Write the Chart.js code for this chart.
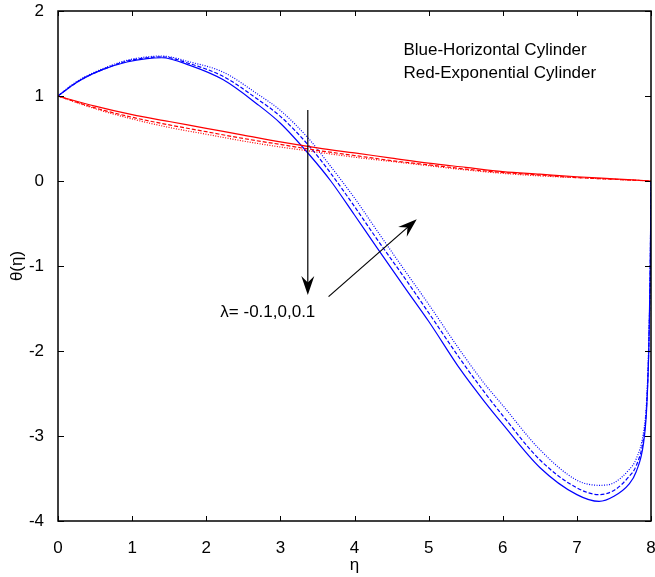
<!DOCTYPE html>
<html>
<head>
<meta charset="utf-8">
<script src="https://cdn.jsdelivr.net/npm/chart.js@4.4.1/dist/chart.umd.min.js"></script>
<style>
html, body { margin: 0; padding: 0; background: #fff; }
</style>
</head>
<body>
<canvas id="chart" width="655" height="577"></canvas>
<script>
// theta(eta) profiles

const etaBlue = [0, 0.2, 0.35, 0.6, 0.93, 1.2, 1.4, 1.78, 2.23, 2.68, 3.0, 3.4, 3.68, 4.0, 4.3, 4.7, 5.0, 5.43, 5.74, 6.0, 6.5, 7.0, 7.3, 7.5, 7.7, 7.8, 7.9, 7.94, 7.97, 7.99, 8.0];
const blueA = [1.0, 1.13, 1.21, 1.31, 1.40, 1.44, 1.45, 1.36, 1.19, 0.91, 0.68, 0.30, 0.0, -0.40, -0.78, -1.28, -1.65, -2.22, -2.58, -2.86, -3.37, -3.69, -3.77, -3.71, -3.57, -3.42, -3.08, -2.7, -2.0, -1.0, 0.0];
const blueB = [1.0, 1.13, 1.21, 1.31, 1.41, 1.45, 1.46, 1.38, 1.23, 0.97, 0.76, 0.40, 0.09, -0.30, -0.68, -1.17, -1.55, -2.10, -2.47, -2.76, -3.28, -3.61, -3.69, -3.64, -3.48, -3.35, -3.02, -2.65, -1.95, -1.0, 0.0];
const blueC = [1.0, 1.14, 1.22, 1.32, 1.42, 1.46, 1.47, 1.40, 1.28, 1.03, 0.83, 0.48, 0.17, -0.20, -0.58, -1.08, -1.45, -2.00, -2.37, -2.64, -3.16, -3.52, -3.58, -3.55, -3.40, -3.27, -2.95, -2.6, -1.9, -1.0, 0.0];

const etaRed = [0, 0.5, 1, 1.5, 2, 2.5, 3, 3.5, 4, 4.5, 5, 5.5, 6, 6.5, 7, 7.5, 8];
const red1 = [1.0, 0.88, 0.78, 0.70, 0.62, 0.54, 0.46, 0.39, 0.33, 0.27, 0.21, 0.16, 0.11, 0.08, 0.05, 0.025, 0.0];
const red2 = [1.0, 0.86, 0.75, 0.66, 0.58, 0.50, 0.43, 0.36, 0.30, 0.24, 0.19, 0.14, 0.10, 0.07, 0.04, 0.02, 0.0];
const red3 = [1.0, 0.85, 0.73, 0.63, 0.55, 0.47, 0.40, 0.34, 0.28, 0.23, 0.18, 0.13, 0.09, 0.06, 0.04, 0.02, 0.0];

const xTicks = [0, 1, 2, 3, 4, 5, 6, 7, 8];
const yTicks = [-4, -3, -2, -1, 0, 1, 2];

// annotations in data units
const noteLines = ['Blue-Horizontal Cylinder', 'Red-Exponential Cylinder'];
const noteAt = { x: 4.66, y: [1.54, 1.27] };
const lambdaText = 'λ= -0.1,0,0.1';
const lambdaAt = { x: 2.19, y: -1.54 };
const arrows = [
    { from: [3.37, 0.835], to: [3.37, -1.34] },
    { from: [3.65, -1.36], to: [4.84, -0.45] }
];

const FONT = "'Liberation Sans', Arial, sans-serif";

function pts(xs, ys) {
    return xs.map((x, i) => ({ x: x, y: ys[i] }));
}

function line(label, xs, ys, color, dash) {
    return {
        label: label,
        data: pts(xs, ys),
        showLine: true,
        borderColor: color,
        borderWidth: 1.2,
        borderDash: dash,
        pointRadius: 0,
        cubicInterpolationMode: 'monotone',
        fill: false
    };
}

const decorations = {
    id: 'decorations',
    afterDatasetsDraw(chart) {
        const ctx = chart.ctx;
        const xs = chart.scales.x, ys = chart.scales.y;
        const a = chart.chartArea;
        ctx.save();

        // box + inward ticks
        ctx.strokeStyle = '#000';
        ctx.lineWidth = 1.5;
        ctx.strokeRect(a.left, a.top, a.right - a.left, a.bottom - a.top);
        ctx.lineWidth = 1;
        ctx.beginPath();
        xTicks.forEach(v => {
            const px = Math.round(xs.getPixelForValue(v)) + 0.5;
            ctx.moveTo(px, a.bottom); ctx.lineTo(px, a.bottom - 5);
            ctx.moveTo(px, a.top); ctx.lineTo(px, a.top + 5);
        });
        yTicks.forEach(v => {
            const py = Math.round(ys.getPixelForValue(v)) + 0.5;
            ctx.moveTo(a.left, py); ctx.lineTo(a.left + 6, py);
            ctx.moveTo(a.right, py); ctx.lineTo(a.right - 6, py);
        });
        ctx.stroke();

        // text notes
        ctx.fillStyle = '#000';
        ctx.font = '17px ' + FONT;
        ctx.textBaseline = 'middle';
        ctx.textAlign = 'left';
        noteLines.forEach((t, i) => {
            ctx.fillText(t, xs.getPixelForValue(noteAt.x), ys.getPixelForValue(noteAt.y[i]));
        });
        ctx.fillText(lambdaText, xs.getPixelForValue(lambdaAt.x), ys.getPixelForValue(lambdaAt.y));

        // arrows
        arrows.forEach(ar => {
            const x0 = xs.getPixelForValue(ar.from[0]), y0 = ys.getPixelForValue(ar.from[1]);
            const x1 = xs.getPixelForValue(ar.to[0]), y1 = ys.getPixelForValue(ar.to[1]);
            const len = Math.hypot(x1 - x0, y1 - y0);
            const ux = (x1 - x0) / len, uy = (y1 - y0) / len;
            const nx = -uy, ny = ux;
            const L = 19, W = 6.5;
            ctx.strokeStyle = '#000';
            ctx.lineWidth = 1.2;
            ctx.beginPath();
            ctx.moveTo(x0, y0);
            ctx.lineTo(x1 - ux * 10, y1 - uy * 10);
            ctx.stroke();
            ctx.beginPath();
            ctx.moveTo(x1, y1);
            ctx.lineTo(x1 - ux * L + nx * W, y1 - uy * L + ny * W);
            ctx.lineTo(x1 - ux * L * 0.65, y1 - uy * L * 0.65);
            ctx.lineTo(x1 - ux * L - nx * W, y1 - uy * L - ny * W);
            ctx.closePath();
            ctx.fill();
        });
        ctx.restore();
    }
};

new Chart(document.getElementById('chart'), {
    type: 'scatter',
    data: {
        datasets: [
            line('Red 1', etaRed, red1, '#ff0000', []),
            line('Red 2', etaRed, red2, '#ff0000', [4, 2]),
            line('Red 3', etaRed, red3, '#ff0000', [1, 1.5]),
            line('Blue A', etaBlue, blueA, '#0000ff', []),
            line('Blue B', etaBlue, blueB, '#0000ff', [4, 2]),
            line('Blue C', etaBlue, blueC, '#0000ff', [1, 1.5])
        ]
    },
    options: {
        responsive: false,
        animation: false,
        layout: { padding: { top: 11, right: 4, left: 0, bottom: 0 }, autoPadding: false },
        plugins: { legend: { display: false }, tooltip: { enabled: false } },
        scales: {
            x: {
                type: 'linear',
                min: 0, max: 8,
                grid: { display: false },
                border: { display: false },
                afterBuildTicks: s => { s.ticks = xTicks.map(v => ({ value: v })); },
                afterFit: s => { s.height = 56; s.paddingLeft = 0; s.paddingRight = 0; },
                ticks: { color: '#000', padding: 9, maxRotation: 0, font: { family: FONT, size: 17 } },
                title: { display: true, text: 'η', color: '#000', padding: { top: 0, bottom: 1 }, font: { family: FONT, size: 17 } }
            },
            y: {
                type: 'linear',
                min: -4, max: 2,
                grid: { display: false },
                border: { display: false },
                afterBuildTicks: s => { s.ticks = yTicks.map(v => ({ value: v })); },
                afterFit: s => { s.width = 58; s.paddingTop = 0; s.paddingBottom = 0; },
                ticks: { color: '#000', padding: 6, font: { family: FONT, size: 17 } },
                title: { display: true, text: 'θ(η)', color: '#000', padding: { top: 7, bottom: 0 }, font: { family: FONT, size: 17 } }
            }
        }
    },
    plugins: [decorations]
});
</script>
</body>
</html>
